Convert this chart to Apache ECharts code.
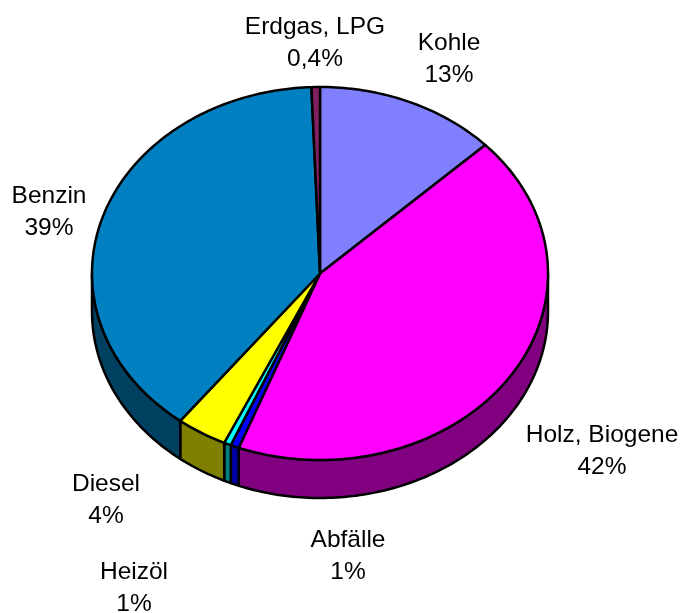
<!DOCTYPE html>
<html>
<head>
<meta charset="utf-8">
<style>
  html, body { margin: 0; padding: 0; background: #fff; }
  #chart { width: 680px; height: 613px; }
</style>
<script src="https://cdn.jsdelivr.net/npm/echarts@6/dist/echarts.min.js"></script>
</head>
<body>
<div id="chart"></div>
<script>
// data, clockwise from 12 o'clock
var categories = ["Kohle", "Holz, Biogene", "Abfälle", "Heizöl", "Diesel", "Benzin", "Erdgas, LPG"];
var shares = [12.9, 42.9, 0.6, 0.5, 3.6, 38.9, 0.6];
var shareLabels = ["13%", "42%", "1%", "1%", "4%", "39%", "0,4%"];

// look
var topColors = ["#8080ff", "#ff00ff", "#0000ff", "#00ffff", "#ffff00", "#0080c0", "#802060"];
var sideColors = ["#404080", "#800080", "#0000a0", "#008080", "#808000", "#004060", "#401030"];
var labelCenters = [[449, 59], [602, 451], [348, 556], [134, 588], [106, 500], [49, 212], [315, 43]];
var cx = 320, cy = 273.5, rx = 228, ry = 186.5, depth = 38;

var total = shares.reduce(function (a, b) { return a + b; }, 0);
var rows = [];
var sum = 0;
shares.forEach(function (v, i) {
  rows.push([i, sum, v]);
  sum += v;
});

function rim(deg, dy) {
  var t = deg * Math.PI / 180;
  return [cx + rx * Math.sin(t), cy - ry * Math.cos(t) + dy];
}

function renderSlice(params, api) {
  var i = api.value(0);
  var a0 = api.value(1) / total * 360;
  var a1 = a0 + api.value(2) / total * 360;
  var children = [];
  var d;

  // front wall, only the part between 3 and 9 o'clock shows
  var s0 = Math.max(a0, 90), s1 = Math.min(a1, 270);
  if (s1 > s0) {
    var wall = [];
    for (d = s0; d < s1; d += 1) wall.push(rim(d, 0));
    wall.push(rim(s1, 0));
    for (d = s1; d > s0; d -= 1) wall.push(rim(d, depth));
    wall.push(rim(s0, depth));
    children.push({
      type: "polygon",
      z2: 1,
      shape: { points: wall },
      style: { fill: sideColors[i], stroke: "#000", lineWidth: 2.5, lineJoin: "round" }
    });
  }

  var top = [[cx, cy]];
  for (d = a0; d < a1; d += 1) top.push(rim(d, 0));
  top.push(rim(a1, 0));
  children.push({
    type: "polygon",
    z2: 2,
    shape: { points: top },
    style: { fill: topColors[i], stroke: "#000", lineWidth: 2.5, lineJoin: "round" }
  });

  children.push({
    type: "text",
    z2: 3,
    x: labelCenters[i][0],
    y: labelCenters[i][1],
    style: {
      text: categories[i] + "\n" + shareLabels[i],
      fontFamily: "Liberation Sans",
      fontSize: 24.5,
      lineHeight: 32,
      fill: "#000",
      align: "center",
      verticalAlign: "middle"
    }
  });
  return { type: "group", children: children };
}

var chart = echarts.init(document.getElementById("chart"));
chart.setOption({
  animation: false,
  backgroundColor: "#fff",
  series: [{
    type: "custom",
    coordinateSystem: "none",
    renderItem: renderSlice,
    data: rows
  }]
});
</script>
</body>
</html>
